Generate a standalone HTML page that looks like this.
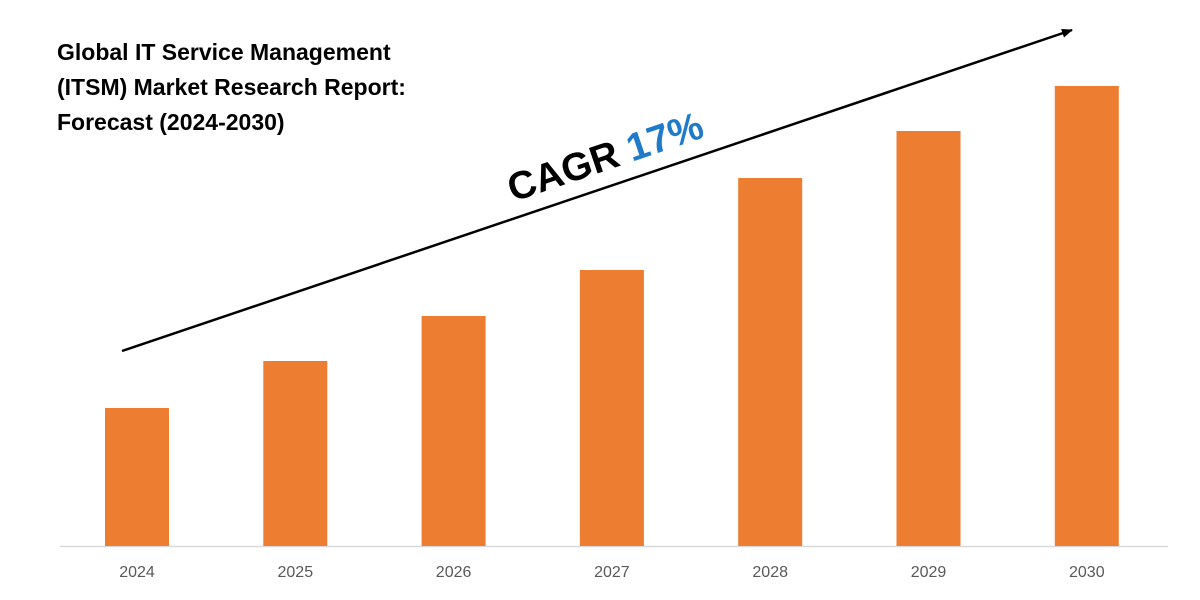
<!DOCTYPE html>
<html><head><meta charset="utf-8"><style>
body{margin:0;background:#fff;}
svg{display:block;font-family:"Liberation Sans",sans-serif;}
</style></head><body>
<svg id="chart" width="1200" height="600" viewBox="0 0 1200 600">
<g font-weight="bold" font-size="23" fill="#000">
<text x="57" y="60">Global IT Service Management</text>
<text x="57" y="95">(ITSM) Market Research Report:</text>
<text x="57" y="130">Forecast (2024-2030)</text>
</g>
<defs><marker id="ah" markerUnits="userSpaceOnUse" markerWidth="11" markerHeight="9" refX="10" refY="4.5" orient="auto"><path d="M0,0 L11,4.5 L0,9 z" fill="#000"/></marker></defs>
<line x1="122" y1="351" x2="1072" y2="30" stroke="#000" stroke-width="2.5" marker-end="url(#ah)"/>
<text x="513" y="202" transform="rotate(-18.7 513 202)" font-weight="bold" font-size="39"><tspan fill="#000">CAGR </tspan><tspan fill="#1f7ac9">17%</tspan></text>
<line x1="60" y1="546.5" x2="1168" y2="546.5" stroke="#d9d9d9" stroke-width="1.5"/>
<g id="bars"></g>
<g id="labels"></g>
</svg>
<script>
const categories = ["2024","2025","2026","2027","2028","2029","2030"];
const values = [1.38, 1.85, 2.30, 2.76, 3.68, 4.15, 4.60];
const baseY = 546, pxPerUnit = 100, firstCenter = 137, step = 158.3, barW = 64;
const xPos = i => firstCenter + i * step;
const yPos = v => baseY - v * pxPerUnit;
const ns = "http://www.w3.org/2000/svg";
const bars = document.getElementById("bars"), labels = document.getElementById("labels");
values.forEach((v, i) => {
  const r = document.createElementNS(ns, "rect");
  r.setAttribute("x", xPos(i) - barW / 2);
  r.setAttribute("y", yPos(v));
  r.setAttribute("width", barW);
  r.setAttribute("height", baseY - yPos(v));
  r.setAttribute("fill", "#ed7d31");
  
  
  bars.appendChild(r);
  const t = document.createElementNS(ns, "text");
  t.setAttribute("x", xPos(i));
  t.setAttribute("y", 577);
  t.setAttribute("text-anchor", "middle");
  t.setAttribute("font-size", "16");
  t.setAttribute("fill", "#595959");
  t.textContent = categories[i];
  
  
  labels.appendChild(t);
});
</script>
</body></html>
